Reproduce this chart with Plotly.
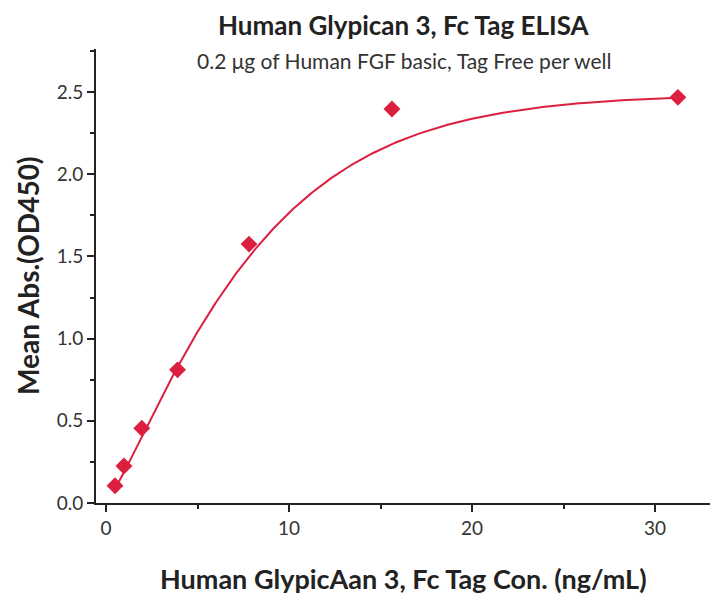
import numpy as np
import plotly.graph_objects as go

# Data
conc = [0.488, 0.977, 1.953, 3.906, 7.8125, 15.625, 31.25]
od450 = [0.105, 0.225, 0.455, 0.81, 1.575, 2.397, 2.468]

# Fitted-curve parameters (saturation model)
fit_top = 2.485
fit_scale = 8.35
fit_power = 1.19

x_ticks = [0, 10, 20, 30]
y_ticks = [0.0, 0.5, 1.0, 1.5, 2.0, 2.5]

title_text = "Human Glypican 3, Fc Tag ELISA"
subtitle_text = "0.2 μg of Human FGF basic, Tag Free per well"
x_title = "Human GlypicAan 3, Fc Tag Con. (ng/mL)"
y_title = "Mean Abs.(OD450)"

red = "#DC1F3F"
font = "Lato"

xc = np.linspace(min(conc), max(conc), 400)
yc = fit_top * (1 - np.exp(-(xc / fit_scale) ** fit_power))

fig = go.Figure()
fig.add_trace(go.Scatter(x=xc, y=yc, mode="lines",
                         line=dict(color=red, width=2), hoverinfo="skip",
                         showlegend=False))
fig.add_trace(go.Scatter(x=conc, y=od450, mode="markers",
                         marker=dict(symbol="diamond", size=13, color=red),
                         showlegend=False))

axis_common = dict(showline=True, linecolor="#222222", linewidth=2,
                   ticks="outside", ticklen=7, tickwidth=2, tickcolor="#222222",
                   showgrid=False, zeroline=False, automargin=False,
                   tickfont=dict(size=19, color="#333333"))

fig.update_layout(
    width=710, height=591,
    margin=dict(l=88, r=7, t=41, b=96),
    plot_bgcolor="white", paper_bgcolor="white",
    font=dict(family=font, size=16, color="#333333"),
    xaxis=dict(range=[-0.55, 33.06], tickvals=x_ticks, ticktext=[str(v) for v in x_ticks],
               minor=dict(tickvals=[5, 15, 25], ticks="outside", ticklen=4,
                          tickwidth=2, tickcolor="#222222"),
               **axis_common),
    yaxis=dict(range=[0, 2.762], tickvals=y_ticks, ticktext=[f"{v:.1f}" for v in y_ticks],
               minor=dict(tickvals=[0.25, 0.75, 1.25, 1.75, 2.25, 2.75], ticks="outside",
                          ticklen=4, tickwidth=2, tickcolor="#222222"),
               **axis_common),
    annotations=[
        dict(text="<b>" + title_text + "</b>", xref="paper", yref="paper",
             x=0.5, y=1, yshift=24, xanchor="center", yanchor="middle", showarrow=False,
             font=dict(size=26, color="#222222")),
        dict(text=subtitle_text, xref="paper", yref="paper",
             x=0.5, y=1, yshift=-11, xanchor="center", yanchor="middle", showarrow=False,
             font=dict(size=21, color="#333333")),
        dict(text="<b>" + x_title + "</b>", xref="paper", yref="paper",
             x=0.5, y=0, yshift=-75, xanchor="center", yanchor="middle", showarrow=False,
             font=dict(size=27, color="#222222")),
        dict(text="<b>" + y_title + "</b>", xref="paper", yref="paper",
             x=0, y=0.5, xshift=-68, xanchor="center", yanchor="middle", showarrow=False,
             textangle=-90, font=dict(size=28, color="#222222")),
    ],
)

fig.write_html("out.html")
